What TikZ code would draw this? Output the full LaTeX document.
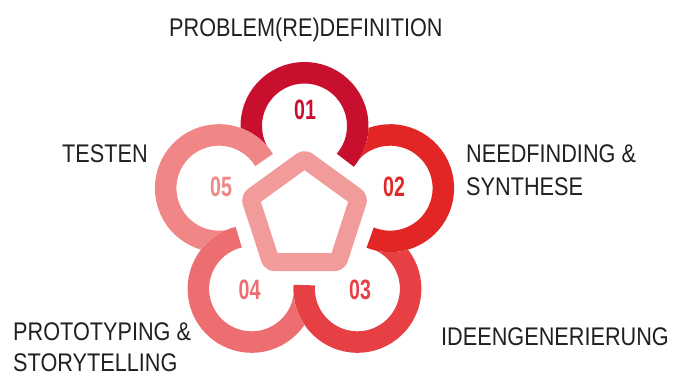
\documentclass[tikz,border=0pt]{standalone}
\usepackage{fontspec}
\setmainfont{Liberation Sans}[FakeStretch=0.85]
\newfontfamily\numfont{Liberation Sans}[FakeStretch=0.7]
\usetikzlibrary{calc}
\definecolor{cA}{RGB}{200,16,46}
\definecolor{cB}{RGB}{226,38,38}
\definecolor{cC}{RGB}{230,64,68}
\definecolor{cD}{RGB}{236,110,112}
\definecolor{cE}{RGB}{240,134,134}
\definecolor{cP}{RGB}{242,155,155}
\definecolor{txt}{RGB}{35,31,32}
\tikzset{
  ringband/.style={line width=21.5pt},
  lab/.style={anchor=base west, inner sep=0pt, text=txt, font=\fontsize{25.5}{32}\selectfont},
  num/.style={anchor=center, inner sep=0pt, font=\numfont\bfseries\fontsize{28}{30}\selectfont},
  pentline/.style={draw=cP, line width=18pt, line join=round, rounded corners=3pt}
}
\newcommand{\ringR}{53.25}
\newcommand{\ringO}{64}
\begin{document}
\begin{tikzpicture}[x=1pt,y=1pt]
\useasboundingbox (0,0) rectangle (679,378);
\coordinate (C) at (304.5,162);
\coordinate (c1) at ($(C)+(90:90)$);
\coordinate (c2) at ($(C)+(18:90)$);
\coordinate (c3) at ($(C)+(-54:90)$);
\coordinate (c4) at ($(C)+(-126:90)$);
\coordinate (c5) at ($(C)+(162:90)$);
% ring 01 (start hidden behind ring 05)
\begin{scope}[even odd rule]
\clip (-20,-20) rectangle (700,400) (c5) circle (\ringO);
\draw[ringband, cA] ($(c1)+(216:\ringR)$) arc[start angle=216, end angle=-40, radius=\ringR];
\end{scope}
% ring 02
\begin{scope}[even odd rule]
\clip (-20,-20) rectangle (700,400) (c1) circle (\ringO);
\draw[ringband, cB] ($(c2)+(144:\ringR)$) arc[start angle=144, end angle=-112, radius=\ringR];
\end{scope}
% ring 03
\begin{scope}[even odd rule]
\clip (-20,-20) rectangle (700,400) (c2) circle (\ringO);
\draw[ringband, cC] ($(c3)+(72:\ringR)$) arc[start angle=72, end angle=-184, radius=\ringR];
\end{scope}
% ring 04
\begin{scope}[even odd rule]
\clip (-20,-20) rectangle (700,400) (c3) circle (\ringO);
\draw[ringband, cD] ($(c4)+(0:\ringR)$) arc[start angle=0, end angle=-256, radius=\ringR];
\end{scope}
% ring 05
\begin{scope}[even odd rule]
\clip (-20,-20) rectangle (700,400) (c4) circle (\ringO);
\draw[ringband, cE] ($(c5)+(-72:\ringR)$) arc[start angle=-72, end angle=-328, radius=\ringR];
\end{scope}
% pentagon
\draw[pentline] ($(C)+(90:57)$) -- ($(C)+(162:57)$) -- ($(C)+(234:57)$) -- ($(C)+(306:57)$) -- ($(C)+(18:57)$) -- cycle;
% numbers
\node[num, text=cA] (n1) at (305,268) {01};
\node[num, text=cB] (n2) at (394,191) {02};
\node[num, text=cC] (n3) at (360,88) {03};
\node[num, text=cD] (n4) at (249.5,88) {04};
\node[num, text=cE] (n5) at (221,191) {05};
% labels
\node[lab] (l1) at (169,341) {PROBLEM(RE)DEFINITION};
\node[lab] (l2a) at (466,216) {NEEDFINDING \&};
\node[lab] (l2b) at (466,183) {SYNTHESE};
\node[lab] (l3) at (441,33) {IDEENGENERIERUNG};
\node[lab] (l4a) at (13,38) {PROTOTYPING \&};
\node[lab] (l4b) at (13,7) {STORYTELLING};
\node[lab] (l5) at (62,215) {TESTEN};
\end{tikzpicture}
\end{document}
